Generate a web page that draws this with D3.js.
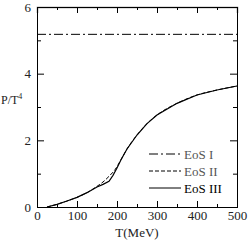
<!DOCTYPE html>
<html>
<head>
<meta charset="utf-8">
<script src="https://cdn.jsdelivr.net/npm/d3@7"></script>
<style>
  body { margin: 0; background: #fff; }
  text { font-family: "Liberation Serif", "DejaVu Serif", serif; }
</style>
</head>
<body>
<svg width="248" height="242"></svg>
<script>
// values
var eos1T = [0, 500];
var eos1P = [5.18, 5.18];

var eos2T = [25, 50, 75, 100, 125, 150, 165, 180, 195, 210, 225, 250, 275, 300, 350, 400, 450, 500];
var eos2P = [0, 0.08, 0.18, 0.29, 0.43, 0.62, 0.75, 0.92, 1.12, 1.42, 1.74, 2.16, 2.5, 2.76, 3.11, 3.36, 3.51, 3.63];

var eos3T = [25, 50, 75, 100, 125, 150, 165, 180, 190, 200, 210, 225, 250, 275, 300, 350, 400, 450, 500];
var eos3P = [0, 0.08, 0.18, 0.29, 0.43, 0.6, 0.68, 0.77, 0.95, 1.17, 1.42, 1.74, 2.16, 2.5, 2.76, 3.11, 3.36, 3.51, 3.63];

var xTicks = [0, 100, 200, 300, 400, 500];
var yTicks = [0, 2, 4, 6];
var legendNames = ["EoS I", "EoS II", "EoS III"];
var legendDash = ["9,3,2,3", "4,2", null];

var svg = d3.select("svg");
var mLeft = 37, mRight = 237, mTop = 7, mBottom = 207;

var x = d3.scaleLinear().domain([0, 500]).range([mLeft, mRight]);
var y = d3.scaleLinear().domain([0, 6]).range([mBottom, mTop]);

function pts(ts, ps) {
  return ts.map(function(t, i) { return [t, ps[i]]; });
}

var line = d3.line()
  .x(function(d) { return x(d[0]); })
  .y(function(d) { return y(d[1]); })
  .curve(d3.curveMonotoneX);

var lineLin = d3.line()
  .x(function(d) { return x(d[0]); })
  .y(function(d) { return y(d[1]); });

// axes with inward ticks
svg.append("g").attr("transform", "translate(0," + mBottom + ")")
  .call(d3.axisBottom(x).tickValues(xTicks).tickSize(-6).tickPadding(4).tickFormat(d3.format("d")));
svg.append("g").attr("transform", "translate(0," + mBottom + ")")
  .call(d3.axisBottom(x).tickValues([50, 150, 250, 350, 450]).tickSize(-3).tickFormat(""));
var topAx = svg.append("g").attr("transform", "translate(0," + mTop + ")")
  .call(d3.axisTop(x).tickValues(xTicks.slice(1, 5)).tickSize(-6).tickFormat(""));
svg.append("g").attr("transform", "translate(0," + mTop + ")")
  .call(d3.axisTop(x).tickValues([50, 150, 250, 350, 450]).tickSize(-3).tickFormat(""));

svg.append("g").attr("transform", "translate(" + mLeft + ",0)")
  .call(d3.axisLeft(y).tickValues(yTicks).tickSize(-7).tickPadding(6).tickFormat(d3.format("d")));
svg.append("g").attr("transform", "translate(" + mLeft + ",0)")
  .call(d3.axisLeft(y).tickValues([1, 3, 5]).tickSize(-4).tickFormat(""));
svg.append("g").attr("transform", "translate(" + mRight + ",0)")
  .call(d3.axisRight(y).tickValues([2, 4]).tickSize(-7).tickFormat(""));
svg.append("g").attr("transform", "translate(" + mRight + ",0)")
  .call(d3.axisRight(y).tickValues([1, 3, 5]).tickSize(-4).tickFormat(""));

svg.selectAll(".domain").attr("stroke", "#000");
svg.selectAll(".tick line").attr("stroke", "#000");
svg.selectAll(".tick text").attr("font-family", "Liberation Serif").attr("font-size", 13).attr("fill", "#222");
// top border is drawn gray in the original
topAx.select(".domain").attr("stroke", "#777").attr("stroke-width", 1.5);

// axis titles
svg.append("text").attr("x", (mLeft + mRight) / 2).attr("y", 237).attr("text-anchor", "middle")
  .attr("font-size", 13).attr("fill", "#222").text("T(MeV)");
var yl = svg.append("text").attr("x", 1).attr("y", 104).attr("font-size", 12).attr("fill", "#222");
yl.append("tspan").text("P/T");
yl.append("tspan").attr("dy", -5).attr("font-size", 8).text("4");

// curves
svg.append("path").attr("d", lineLin(pts(eos1T, eos1P))).attr("fill", "none")
  .attr("stroke", "#000").attr("stroke-width", 1).attr("stroke-dasharray", legendDash[0]);
svg.append("path").attr("d", line(pts(eos2T, eos2P))).attr("fill", "none")
  .attr("stroke", "#000").attr("stroke-width", 1).attr("stroke-dasharray", legendDash[1]);
svg.append("path").attr("d", lineLin(pts(eos3T, eos3P))).attr("fill", "none")
  .attr("stroke", "#000").attr("stroke-width", 1.2);

// legend
var lg = svg.append("g");
legendNames.forEach(function(n, i) {
  var yy = 154 + i * 17;
  lg.append("line").attr("x1", 149).attr("x2", 181).attr("y1", yy).attr("y2", yy)
    .attr("stroke", "#000").attr("stroke-width", 1)
    .attr("stroke-dasharray", legendDash[i]);
  lg.append("text").attr("x", 184).attr("y", yy + 4.5).attr("font-size", 13)
    .attr("fill", i < 2 ? "#555" : "#000").text(n);
});
</script>
</body>
</html>
